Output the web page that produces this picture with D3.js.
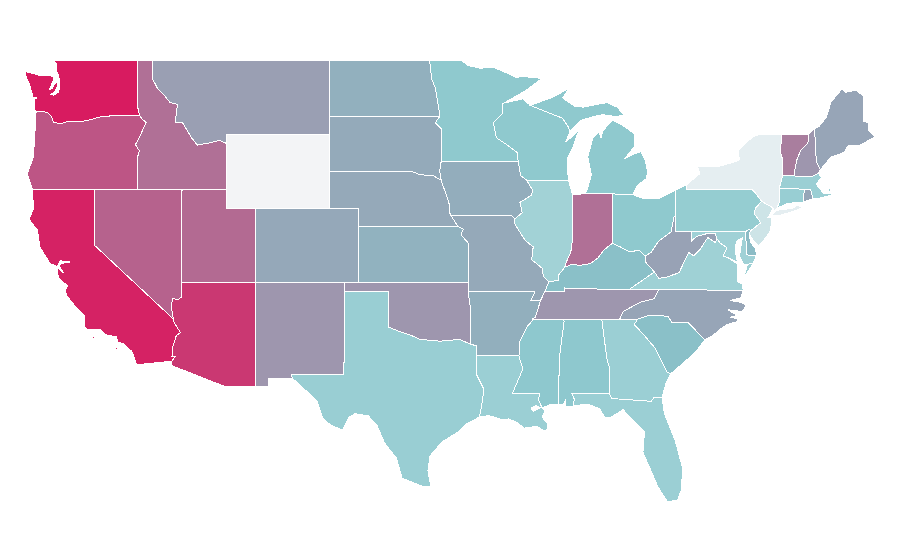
<!DOCTYPE html>
<html><head><meta charset="utf-8">
<script src="https://cdn.jsdelivr.net/npm/d3@7"></script>
<style>html,body{margin:0;padding:0;background:#fff}svg{display:block}</style>
</head><body><svg id="map" width="900" height="560"></svg>
<script>
const lonDomain=[-124.7,-66.95], latDomain=[49,25];
const colorDomain=[0,20,25,100], colorRange=['#f3f4f6','#8fcacf','#8ac0c8','#d81b60'];
const stateValues={WA:100,CA:96.8,AZ:86.8,OR:73.6,NV:67.7,UT:64,ID:61.4,IN:61.4,VT:55,NM:44,OK:44,TN:44,NH:44,MT:40,WV:38.6,ME:37.3,NC:37.3,RI:36.8,CO:35.9,NE:35.5,MO:35.5,SD:35,IA:33.6,AR:32.7,ND:32.3,KS:31.4,DE:26.8,KY:25,SC:25,MS:21,AL:21,MN:20.5,WI:20.5,MI:20.5,OH:20.5,PA:18.8,CT:18.2,TX:18,LA:17.6,GA:17.6,FL:17.6,MA:17.6,VA:16.8,MD:16.6,IL:16.2,NJ:7.6,NY:2.8,WY:0};
const stateRings={
WA:[[[-117.03,49],[-122.76,49],[-122.55,48.75],[-122.6,48.5],[-122.45,48.2],[-122.35,47.9],[-122.35,47.5],[-122.45,47.25],[-122.75,47.1],[-122.95,47.15],[-122.65,47.3],[-122.5,47.6],[-122.55,47.9],[-122.75,47.6],[-122.85,47.45],[-123.05,47.4],[-122.78,47.9],[-122.72,48.12],[-123.1,48.15],[-123.7,48.17],[-124.7,48.38],[-124.65,48.15],[-124.4,47.7],[-124.15,47],[-123.9,46.95],[-124.08,46.85],[-124.05,46.3],[-123.95,46.2],[-123.4,46.2],[-123.15,46.15],[-122.9,45.95],[-122.78,45.65],[-122.3,45.55],[-121.7,45.7],[-121.2,45.65],[-120.5,45.72],[-119.6,45.92],[-119,45.93],[-118.98,46],[-116.92,46],[-117.04,46.42]]],
OR:[[[-124.2,42],[-124.55,42.84],[-124.15,43.7],[-124.05,44.7],[-123.95,46.2],[-123.4,46.2],[-123.15,46.15],[-122.9,45.95],[-122.78,45.65],[-122.3,45.55],[-121.7,45.7],[-121.2,45.65],[-120.5,45.72],[-119.6,45.92],[-119,45.93],[-118.98,46],[-116.92,46],[-116.75,45.82],[-116.47,45.6],[-116.67,45.3],[-116.85,44.95],[-117.2,44.43],[-117.05,44.23],[-116.93,44.1],[-117.03,43.83],[-117.03,42]]],
CA:[[[-124.2,42],[-120,42],[-120,39],[-114.63,35],[-114.57,34.8],[-114.15,34.27],[-114.43,34.1],[-114.7,33.4],[-114.72,33],[-114.5,33],[-114.72,32.72],[-117.12,32.53],[-117.25,32.85],[-117.45,33.25],[-118,33.65],[-118.4,33.75],[-118.5,34.03],[-119.2,34.15],[-119.6,34.42],[-120.5,34.45],[-120.65,34.6],[-120.63,35.15],[-121.3,35.7],[-121.9,36.3],[-121.95,36.6],[-121.8,36.8],[-122.05,36.95],[-122.4,37.2],[-122.5,37.5],[-122.5,37.78],[-122.1,37.5],[-122.35,37.85],[-122.3,38],[-121.65,38.08],[-122.3,38.15],[-122.5,37.83],[-123,38],[-123.7,38.9],[-123.85,39.8],[-124.35,40.3],[-124.4,40.45],[-124.1,41],[-124.2,41.75]],[[-120.2,34],[-119.95,34.05],[-119.95,33.95],[-120.2,33.92]],[[-119.9,33.98],[-119.55,34.05],[-119.55,33.97]],[[-118.6,33.47],[-118.35,33.4],[-118.5,33.32]]],
NV:[[[-120,42],[-114.04,42],[-114.05,36.2],[-114.3,36.05],[-114.7,36.1],[-114.75,35.6],[-114.65,35.1],[-114.63,35],[-120,39]]],
ID:[[[-117.04,49],[-116.05,49],[-116.05,48],[-115.7,47.45],[-115.2,47.05],[-114.85,46.7],[-114.35,46.6],[-114.5,45.65],[-114,45.6],[-113.4,44.8],[-113,44.4],[-112.3,44.5],[-111.5,44.65],[-111.05,44.5],[-111.05,42],[-117.03,42],[-117.03,43.83],[-116.93,44.1],[-117.05,44.23],[-117.2,44.43],[-116.85,44.95],[-116.67,45.3],[-116.47,45.6],[-116.75,45.82],[-116.92,46],[-117.04,46.42]]],
MT:[[[-116.05,49],[-104.04,49],[-104.04,45],[-111.05,45],[-111.05,44.5],[-111.5,44.65],[-112.3,44.5],[-113,44.4],[-113.4,44.8],[-114,45.6],[-114.5,45.65],[-114.35,46.6],[-114.85,46.7],[-115.2,47.05],[-115.7,47.45],[-116.05,48]]],
UT:[[[-114.04,42],[-111.05,42],[-111.05,41],[-109.05,41],[-109.05,37],[-114.05,37]]],
AZ:[[[-114.05,37],[-109.05,37],[-109.05,31.33],[-111.07,31.33],[-114.8,32.5],[-114.72,32.72],[-114.5,33],[-114.72,33],[-114.7,33.4],[-114.43,34.1],[-114.15,34.27],[-114.57,34.8],[-114.63,35],[-114.65,35.1],[-114.75,35.6],[-114.7,36.1],[-114.3,36.05],[-114.05,36.2]]],
NM:[[[-109.05,37],[-103,37],[-103.05,32],[-106.62,32],[-106.53,31.78],[-108.2,31.78],[-108.2,31.33],[-109.05,31.33]]],
CO:[[[-109.05,41],[-102.05,41],[-102.05,37],[-109.05,37]]],
WY:[[[-111.05,45],[-104.05,45],[-104.05,41],[-111.05,41]]],
ND:[[[-104.05,49],[-97.23,49],[-97.1,48],[-96.85,47.5],[-96.6,46.35],[-96.56,45.94],[-104.05,45.94]]],
SD:[[[-104.05,45.94],[-96.56,45.94],[-96.85,45.6],[-96.45,45.3],[-96.45,43.5],[-96.55,43],[-96.45,42.5],[-97,42.75],[-97.9,42.8],[-98.5,43],[-104.05,43]]],
NE:[[[-104.05,43],[-98.5,43],[-97.9,42.8],[-97,42.75],[-96.45,42.5],[-96.1,41.7],[-95.9,41.2],[-95.85,40.7],[-95.31,40],[-102.05,40],[-102.05,41],[-104.05,41]]],
KS:[[[-102.05,40],[-95.31,40],[-94.95,39.85],[-95.1,39.55],[-94.6,39.1],[-94.62,37],[-102.05,37]]],
OK:[[[-103,37],[-94.62,37],[-94.62,36.5],[-94.43,35.4],[-94.48,33.64],[-95.2,33.9],[-96.5,33.8],[-97.2,33.85],[-97.9,33.9],[-98.5,34.12],[-99.2,34.3],[-100,34.56],[-100,36.5],[-103,36.5]]],
TX:[[[-106.62,32],[-103.05,32],[-103,36.5],[-100,36.5],[-100,34.56],[-99.2,34.3],[-98.5,34.12],[-97.9,33.9],[-97.2,33.85],[-96.5,33.8],[-95.2,33.9],[-94.48,33.64],[-94.04,33.55],[-94.04,33.02],[-94.04,31.99],[-93.55,31.2],[-93.7,30.3],[-93.85,29.7],[-94.7,29.35],[-95.3,28.9],[-96.4,28.35],[-97.2,27.6],[-97.35,26.8],[-97.15,25.96],[-97.7,25.95],[-99.1,26.4],[-99.5,27.5],[-100.3,28.3],[-100.8,29.25],[-101.4,29.77],[-102.3,29.88],[-102.7,29.7],[-103.15,28.98],[-104,29.3],[-104.5,29.65],[-104.9,30.6],[-106,31.4],[-106.53,31.78]]],
MN:[[[-97.23,49],[-95.15,49],[-94.6,48.7],[-93.8,48.55],[-92.95,48.62],[-92,48.3],[-91.4,48.07],[-90.75,48.1],[-89.6,48],[-90.8,47.3],[-92.2,46.67],[-92.3,46.65],[-92.3,46.1],[-92.9,45.6],[-92.7,44.8],[-91.95,44.4],[-91.3,44],[-91.22,43.5],[-96.45,43.5],[-96.45,45.3],[-96.85,45.6],[-96.56,45.94],[-96.6,46.35],[-96.85,47.5],[-97.1,48]]],
IA:[[[-96.45,43.5],[-91.22,43.5],[-91.05,42.75],[-90.64,42.5],[-90.25,41.97],[-90.3,41.7],[-91.1,41.3],[-90.95,40.75],[-91.45,40.4],[-91.7,40.6],[-95.77,40.58],[-95.85,40.7],[-95.9,41.2],[-96.1,41.7],[-96.45,42.5],[-96.55,43]]],
MO:[[[-95.77,40.58],[-91.7,40.6],[-91.45,40.4],[-91.5,40.2],[-90.75,39.25],[-90.2,38.9],[-90.3,38.2],[-89.6,37.75],[-89.5,37.3],[-89.15,37],[-89.4,36.5],[-89.7,36],[-90.37,36],[-90.1,36.4],[-90.15,36.5],[-94.62,36.5],[-94.62,37],[-94.6,39.1],[-95.1,39.55],[-94.95,39.85],[-95.31,40]]],
AR:[[[-94.62,36.5],[-90.15,36.5],[-90.1,36.4],[-90.37,36],[-89.7,36],[-90.05,35.1],[-90.6,34.6],[-91.1,33.8],[-91.17,33],[-94.04,33.02],[-94.04,33.55],[-94.48,33.64],[-94.43,35.4]]],
LA:[[[-94.04,33.02],[-91.17,33],[-90.9,32.3],[-91.6,31],[-89.75,31],[-89.85,30.65],[-89.6,30.2],[-89.4,30.05],[-89.6,29.7],[-89.2,29.3],[-89.2,29.05],[-89.4,28.95],[-90,29.2],[-90.8,29.1],[-91.3,29.4],[-91.85,29.6],[-92.3,29.55],[-93.2,29.78],[-93.85,29.7],[-93.7,30.3],[-93.55,31.2],[-94.04,31.99]]],
MS:[[[-90.3,35],[-88.2,35],[-88.1,34.9],[-88.4,33.05],[-88.45,31.9],[-88.45,30.4],[-89,30.38],[-89.6,30.2],[-89.85,30.65],[-89.75,31],[-91.6,31],[-90.9,32.3],[-91.17,33],[-91.1,33.8],[-90.6,34.6],[-90.05,35.1]]],
AL:[[[-88.2,35],[-85.55,35],[-85.2,32.85],[-85,32.3],[-85.05,31],[-87.6,31],[-87.4,30.65],[-87.5,30.3],[-88,30.25],[-88,30.65],[-88.15,30.35],[-88.45,30.4],[-88.45,31.9],[-88.4,33.05],[-88.1,34.9]]],
WI:[[[-92.2,46.67],[-90.9,46.9],[-90.4,46.55],[-89.1,46.13],[-88.2,45.85],[-87.8,45.35],[-87.7,45.15],[-88,44.55],[-87.1,45.2],[-87.5,44.3],[-87.85,43.75],[-87.9,43.2],[-87.8,42.5],[-90.64,42.5],[-91.05,42.75],[-91.22,43.5],[-91.3,44],[-91.95,44.4],[-92.7,44.8],[-92.9,45.6],[-92.3,46.1],[-92.3,46.65]]],
IL:[[[-90.64,42.5],[-87.8,42.5],[-87.53,41.72],[-87.53,39.35],[-87.65,38.6],[-88,38],[-88.05,37.8],[-88.45,37.4],[-88.5,37.1],[-89.15,37],[-89.5,37.3],[-89.6,37.75],[-90.3,38.2],[-90.2,38.9],[-90.75,39.25],[-91.5,40.2],[-91.45,40.4],[-90.95,40.75],[-91.1,41.3],[-90.3,41.7],[-90.25,41.97]]],
IN:[[[-87.53,41.72],[-87.2,41.75],[-86.82,41.76],[-84.8,41.76],[-84.82,39.1],[-85.4,38.73],[-85.8,38.3],[-86.3,38],[-87,37.9],[-87.6,37.95],[-88.05,37.8],[-88,38],[-87.65,38.6],[-87.53,39.35]]],
MI:[[[-86.8,41.76],[-84.8,41.76],[-83.45,41.73],[-83.15,42.2],[-82.5,42.6],[-82.45,43],[-82.6,43.6],[-82.9,44.05],[-83.4,43.9],[-84,43.65],[-83.35,44.3],[-83.3,45],[-84.1,45.45],[-84.8,45.75],[-85.45,45.2],[-85.6,44.8],[-85.75,45.1],[-86.15,44.8],[-86.5,43.75],[-86.25,42.8],[-86.55,41.95]],[[-90.4,46.55],[-89,46.95],[-88.5,47.15],[-87.8,47.45],[-88.2,46.95],[-87.4,46.5],[-86.8,46.45],[-85.2,46.7],[-84.5,46.45],[-84,46],[-84.7,45.95],[-85.5,46.05],[-86.3,45.9],[-87,45.72],[-87.7,45.15],[-87.8,45.35],[-88.2,45.85],[-89.1,46.13]],[[-89.2,47.88],[-88.5,48.17],[-88.6,48.05]]],
OH:[[[-84.8,41.76],[-83.45,41.73],[-82.7,41.5],[-81.7,41.5],[-80.52,41.98],[-80.52,40.64],[-80.65,40.5],[-80.85,39.7],[-81.7,39.2],[-82.2,38.6],[-82.6,38.4],[-83,38.72],[-83.65,38.63],[-84.3,38.9],[-84.82,39.1]]],
KY:[[[-89.4,36.5],[-89.15,37],[-88.5,37.1],[-88.45,37.4],[-88.05,37.8],[-87.6,37.95],[-87,37.9],[-86.3,38],[-85.8,38.3],[-85.4,38.73],[-84.82,39.1],[-84.3,38.9],[-83.65,38.63],[-83,38.72],[-82.6,38.4],[-82.6,38.1],[-81.97,37.54],[-83.68,36.6],[-87.85,36.64],[-88.07,36.68],[-88.07,36.5]]],
TN:[[[-90.3,35],[-90.05,35.1],[-89.7,36],[-89.4,36.5],[-88.07,36.5],[-88.07,36.68],[-87.85,36.64],[-83.68,36.6],[-81.68,36.59],[-82,36.1],[-82.95,35.9],[-84.1,35.4],[-84.32,35]]],
WV:[[[-82.6,38.4],[-82.2,38.6],[-81.7,39.2],[-80.85,39.7],[-80.65,40.5],[-80.52,40.64],[-80.52,39.72],[-79.48,39.72],[-79.48,39.2],[-79.1,39.47],[-78.7,39.55],[-78.35,39.63],[-77.83,39.6],[-77.72,39.32],[-77.83,39.13],[-78.35,39.4],[-78.87,38.77],[-79.3,38.42],[-79.65,38.6],[-80.3,37.5],[-81.2,37.25],[-81.68,37.2],[-81.97,37.54],[-82.6,38.1]]],
VA:[[[-83.68,36.6],[-81.97,37.54],[-81.68,37.2],[-81.2,37.25],[-80.3,37.5],[-79.65,38.6],[-79.3,38.42],[-78.87,38.77],[-78.35,39.4],[-77.83,39.13],[-77.72,39.32],[-77.5,39.1],[-77.05,38.85],[-77.3,38.4],[-76.95,38.3],[-76.3,37.95],[-76.3,37.5],[-76.3,37],[-76,36.9],[-75.95,36.55],[-81.68,36.59]],[[-75.95,37.15],[-75.6,37.6],[-75.25,38.03],[-75.65,37.95]]],
NC:[[[-84.32,35],[-83.1,35],[-82.3,35.2],[-81.05,35.15],[-80.8,34.82],[-79.67,34.8],[-78.55,33.87],[-78,34.1],[-77.6,34.4],[-77.05,34.7],[-76.4,34.85],[-76.3,35],[-76.8,35.1],[-76.35,35.2],[-77,35.5],[-76,35.4],[-75.75,35.75],[-76.1,35.9],[-76.85,36],[-76.1,36.15],[-75.95,36.55],[-81.68,36.59],[-82,36.1],[-82.95,35.9],[-84.1,35.4]]],
SC:[[[-83.35,34.7],[-83.1,35],[-82.3,35.2],[-81.05,35.15],[-80.8,34.82],[-79.67,34.8],[-78.55,33.87],[-79.2,33.2],[-79.9,32.7],[-80.85,32.05],[-81.1,32.1],[-81.4,32.6],[-81.9,33.4],[-82.75,34.2]]],
GA:[[[-85.55,35],[-83.1,35],[-83.35,34.7],[-82.75,34.2],[-81.9,33.4],[-81.4,32.6],[-81.1,32.1],[-80.85,32.05],[-81.2,31.5],[-81.45,30.75],[-82,30.75],[-82.2,30.55],[-84.85,30.7],[-85.05,31],[-85,32.3],[-85.2,32.85]]],
FL:[[[-87.6,31],[-85.05,31],[-84.85,30.7],[-82.2,30.55],[-82,30.75],[-81.45,30.75],[-81.3,29.9],[-80.55,28.4],[-80.05,26.9],[-80.15,25.75],[-80.4,25.2],[-81.1,25.13],[-81.75,25.95],[-82.1,26.6],[-82.75,27.8],[-82.65,28.9],[-83.4,29.5],[-84.1,30.1],[-85,29.65],[-85.35,29.7],[-85.7,30.15],[-86.5,30.4],[-87.5,30.3],[-87.4,30.65]]],
MD:[[[-79.48,39.72],[-75.79,39.72],[-75.7,38.46],[-75.05,38.45],[-75.25,38.03],[-75.65,37.95],[-75.9,37.95],[-76.2,38.4],[-76.1,38.9],[-76,39.4],[-76.4,39.2],[-76.5,38.8],[-76.4,38.3],[-76.3,38.05],[-76.95,38.3],[-77.3,38.4],[-77.05,38.85],[-77.5,39.1],[-77.72,39.32],[-77.83,39.6],[-78.35,39.63],[-78.7,39.55],[-79.1,39.47],[-79.48,39.2]]],
DE:[[[-75.79,39.72],[-75.6,39.83],[-75.4,39.8],[-75.55,39.5],[-75.4,39.1],[-75.1,38.8],[-75.05,38.45],[-75.7,38.46]]],
PA:[[[-80.52,41.98],[-79.76,42.27],[-79.76,42],[-75.35,42],[-75.05,41.75],[-74.7,41.36],[-75.1,41],[-75.2,40.7],[-74.75,40.2],[-75.4,39.8],[-75.6,39.83],[-75.79,39.72],[-80.52,39.72]]],
NJ:[[[-74.7,41.36],[-73.9,41],[-74.25,40.5],[-74,40.45],[-74.1,39.75],[-74.4,39.4],[-74.9,38.95],[-75.3,39.3],[-75.55,39.6],[-75.4,39.8],[-74.75,40.2],[-75.2,40.7],[-75.1,41]]],
NY:[[[-79.76,42],[-79.76,42.27],[-78.9,42.85],[-79.05,43.27],[-77.5,43.27],[-76.5,43.5],[-76.2,43.6],[-76.3,44.1],[-75.3,44.85],[-74.7,45],[-73.35,45],[-73.4,44],[-73.25,43.55],[-73.27,42.75],[-73.5,42.05],[-73.5,41.3],[-73.65,41],[-73.9,40.8],[-73.9,41],[-74.7,41.36],[-75.05,41.75],[-75.35,42]],[[-74,40.6],[-73.7,40.87],[-72.6,40.98],[-72.3,41.15],[-71.9,41.05],[-72.5,40.82],[-73.5,40.6]]],
CT:[[[-73.5,42.05],[-71.8,42.02],[-71.85,41.32],[-72.9,41.25],[-73.65,41],[-73.5,41.3]]],
RI:[[[-71.8,42.02],[-71.38,42.02],[-71.2,41.5],[-71.85,41.32]]],
MA:[[[-73.5,42.05],[-73.27,42.75],[-72.46,42.73],[-71.3,42.7],[-70.85,42.87],[-70.6,42.65],[-71,42.3],[-70.65,41.95],[-70.5,41.78],[-70,41.78],[-70.25,42.07],[-70.05,42.05],[-69.95,41.7],[-70.65,41.55],[-71.2,41.5],[-71.38,42.02],[-71.8,42.02]],[[-70.8,41.42],[-70.45,41.4],[-70.6,41.35]],[[-70.3,41.3],[-70,41.3],[-70.1,41.24]]],
VT:[[[-73.35,45],[-71.5,45],[-71.55,44.5],[-72.05,44.1],[-72.3,43.6],[-72.45,43],[-72.46,42.73],[-73.27,42.75],[-73.25,43.55],[-73.4,44]]],
NH:[[[-71.5,45],[-71.1,45.3],[-70.98,43.5],[-70.7,43.07],[-70.85,42.87],[-71.3,42.7],[-72.46,42.73],[-72.45,43],[-72.3,43.6],[-72.05,44.1],[-71.55,44.5]]],
ME:[[[-71.1,45.3],[-70.8,45.4],[-70.3,45.9],[-70,46.7],[-69.23,47.46],[-69,47.25],[-68.3,47.36],[-67.8,47.07],[-67.8,45.7],[-67.45,45.6],[-67.45,45.2],[-67,44.85],[-68,44.4],[-68.8,44.4],[-69.1,44],[-70,43.75],[-70.7,43.07],[-70.98,43.5]]]
};
const lakePontchartrain=[[-90.4,30.2],[-90,30.35],[-89.65,30.2],[-90.2,29.98]];
const xScale=d3.scaleLinear().domain(lonDomain).range([25,875.7]);
const yScale=d3.scaleLinear().domain(latDomain).range([60,504]);
const color=d3.scaleLinear().domain(colorDomain).range(colorRange);
const projection=d3.geoTransform({point(lon,lat){this.stream.point(xScale(lon),yScale(lat));}});
const path=d3.geoPath(projection);
const closeRing=r=>[...r,r[0]];
const features=Object.keys(stateRings).map(id=>({type:'Feature',id,geometry:{type:'MultiPolygon',coordinates:stateRings[id].map(r=>[closeRing(r)])}}));
const svg=d3.select('#map');
svg.selectAll('path.state').data(features).join('path').attr('class','state')
 .attr('d',path)
 .attr('fill',d=>color(stateValues[d.id]))
 .attr('stroke','#fff').attr('stroke-width',1)
 .attr('shape-rendering','crispEdges');
svg.append('path').datum({type:'Polygon',coordinates:[closeRing(lakePontchartrain)]}).attr('d',path).attr('fill','#fff').attr('shape-rendering','crispEdges');
</script></body></html>
